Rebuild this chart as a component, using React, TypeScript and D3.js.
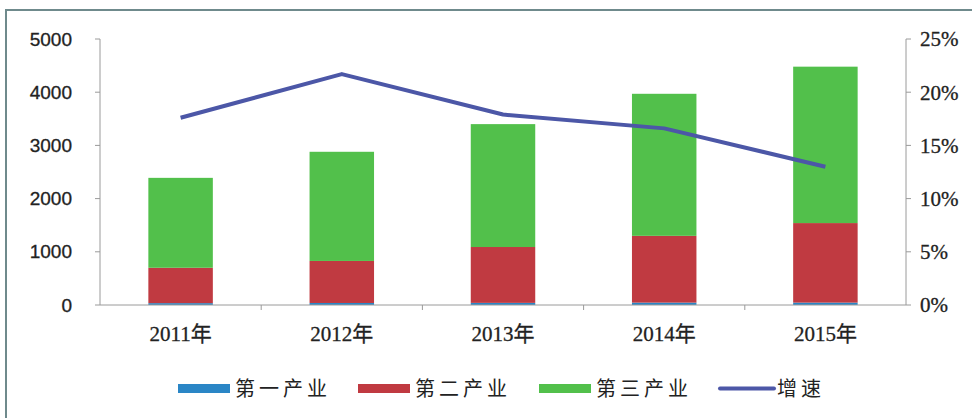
import React from "react";
import * as d3 from "d3";

const years = ["2011年", "2012年", "2013年", "2014年", "2015年"];
const primary = [35, 38, 40, 45, 45];
const secondary = [665, 790, 1050, 1255, 1495];
const tertiary = [1690, 2052, 2310, 2670, 2940];
const growth = [17.6, 21.7, 17.9, 16.6, 13.0];
const leftTicks = [0, 1000, 2000, 3000, 4000, 5000];
const rightTicks = [0, 5, 10, 15, 20, 25];
const seriesNames = ["第一产业", "第二产业", "第三产业", "增速"];

const W = 972;
const H = 418;
const colors = ["#2a86c6", "#c03a41", "#52c04b", "#4c57a7"];

export default function App() {
  const x0 = 100, x1 = 906, yTop = 39, yBot = 305;
  const x = d3.scaleBand<string>().domain(years).range([x0, x1]).paddingInner(0.6).paddingOuter(0.3);
  const xb = d3.scaleBand<string>().domain(years).range([x0, x1]);
  const yL = d3.scaleLinear().domain([0, 5000]).range([yBot, yTop]);
  const yR = d3.scaleLinear().domain([0, 25]).range([yBot, yTop]);

  const rows = years.map((yr, i) => ({ yr, p: primary[i], s: secondary[i], t: tertiary[i] }));
  const stack = d3.stack<any>().keys(["p", "s", "t"])(rows);

  const line = d3.line<number>()
    .x((_, i) => (xb(years[i]) as number) + xb.bandwidth() / 2)
    .y((d) => yR(d));

  const axisColor = "#9a9a9a";
  const legendItems = [
    { name: seriesNames[0], x: 178, color: colors[0], type: "bar" },
    { name: seriesNames[1], x: 358, color: colors[1], type: "bar" },
    { name: seriesNames[2], x: 539, color: colors[2], type: "bar" },
    { name: seriesNames[3], x: 720, color: colors[3], type: "line" },
  ];

  return (
    <svg width={W} height={H} style={{ position: "absolute", left: 0, top: 0, background: "#fff" }}>
      <rect x={0} y={0} width={W} height={H} fill="#fff" />
      {/* frame */}
      <path d={`M6,${H} L6,10 L${W},10`} fill="none" stroke="#6f8a8c" strokeWidth={2} />

      {/* bars */}
      {stack.map((layer, li) =>
        layer.map((d, i) => (
          <rect
            key={`${li}-${i}`}
            x={x(years[i])}
            width={x.bandwidth()}
            y={yL(d[1])}
            height={Math.max(0, yL(d[0]) - yL(d[1]))}
            fill={colors[li]}
          />
        ))
      )}

      {/* x axis */}
      <line x1={x0} x2={x1} y1={yBot} y2={yBot} stroke={axisColor} strokeWidth={1} />
      {years.slice(1).map((yr) => (
        <line key={yr} x1={xb(yr)} x2={xb(yr)} y1={yBot} y2={yBot + 5} stroke={axisColor} />
      ))}
      {years.map((yr) => (
        <text
          key={yr}
          x={(xb(yr) as number) + xb.bandwidth() / 2}
          y={341}
          textAnchor="middle"
          fontFamily="'Liberation Serif', 'Noto Sans CJK SC', serif"
          fontSize={21}
          stroke="#222"
          strokeWidth={0.3}
          fill="#222"
        >
          {yr}
        </text>
      ))}

      {/* left axis */}
      <line x1={x0} x2={x0} y1={yTop} y2={yBot} stroke={axisColor} />
      {leftTicks.map((t) => (
        <g key={t}>
          <line x1={x0 - 5} x2={x0} y1={yL(t)} y2={yL(t)} stroke={axisColor} />
          <text
            x={72}
            y={yL(t)}
            dy="0.35em"
            textAnchor="end"
            fontFamily="'Liberation Sans', Arial, sans-serif"
            fontSize={19}
            stroke="#222"
            strokeWidth={0.3}
            fill="#222"
          >
            {t}
          </text>
        </g>
      ))}

      {/* right axis */}
      <line x1={x1} x2={x1} y1={yTop} y2={yBot} stroke={axisColor} />
      {rightTicks.map((t) => (
        <g key={t}>
          <line x1={x1} x2={x1 + 5} y1={yR(t)} y2={yR(t)} stroke={axisColor} />
          <text
            x={920}
            y={yR(t)}
            dy="0.35em"
            textAnchor="start"
            fontFamily="'Liberation Serif', 'Times New Roman', serif"
            fontSize={21}
            stroke="#222"
            strokeWidth={0.3}
            fill="#222"
          >
            {t}%
          </text>
        </g>
      ))}

      {/* line */}
      <path d={line(growth) as string} fill="none" stroke={colors[3]} strokeWidth={4} strokeLinejoin="round" />

      {/* legend */}
      {legendItems.map((it) => (
        <g key={it.name}>
          {it.type === "bar" ? (
            <rect x={it.x} y={384} width={52} height={9} fill={it.color} />
          ) : (
            <line x1={it.x} x2={it.x + 54} y1={388.5} y2={388.5} stroke={it.color} strokeWidth={4} strokeLinecap="round" />
          )}
          <text
            x={it.x + 57}
            y={396}
            fontFamily="'Noto Sans CJK SC', sans-serif"
            fontSize={20}
            letterSpacing={4}
            fill="#222"
          >
            {it.name}
          </text>
        </g>
      ))}
    </svg>
  );
}
